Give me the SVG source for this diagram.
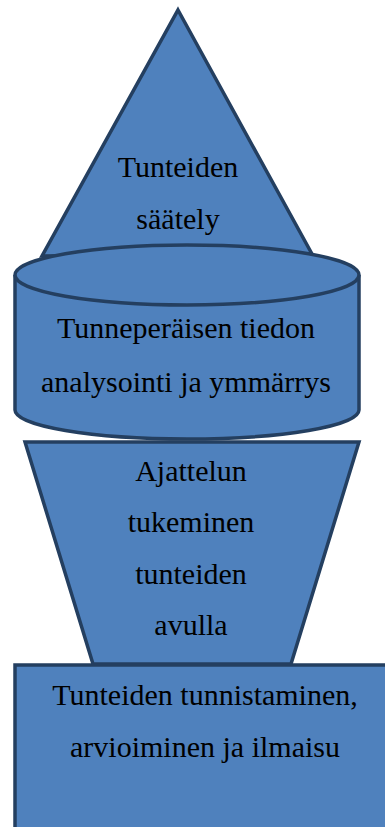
<svg xmlns="http://www.w3.org/2000/svg" width="385" height="827" viewBox="0 0 385 827">
<style>
.s{fill:#4F81BD;stroke:#243F60;stroke-width:3.5;stroke-linejoin:miter}
.t{font-family:"Liberation Serif","Times New Roman",serif;font-size:30px;fill:#000;text-anchor:middle}
</style>
<rect width="385" height="827" fill="#fff"/>
<g id="triangle">
<polygon class="s" points="178,10 312,254 42,256"/>
<text class="t" x="178" y="177">Tunteiden</text>
<text class="t" x="178" y="229">säätely</text>
</g>
<g id="cylinder">
<path class="s" d="M15,275 L15,410 A172,29 0 0 0 359,410 L359,275"/>
<ellipse class="s" cx="187" cy="275" rx="172" ry="30"/>
<text class="t" x="186" y="338">Tunneperäisen tiedon</text>
<text class="t" x="186" y="392">analysointi ja ymmärrys</text>
</g>
<g id="trapezoid">
<polygon class="s" points="25,442 359,442 291,664 93,664"/>
<text class="t" x="191" y="481">Ajattelun</text>
<text class="t" x="191" y="532">tukeminen</text>
<text class="t" x="191" y="584">tunteiden</text>
<text class="t" x="191" y="635">avulla</text>
</g>
<g id="rect">
<rect class="s" x="15" y="665" width="385" height="180"/>
<text class="t" x="205" y="705">Tunteiden tunnistaminen,</text>
<text class="t" x="205" y="757">arvioiminen ja ilmaisu</text>
</g>
<g id="connectors"/>
</svg>
